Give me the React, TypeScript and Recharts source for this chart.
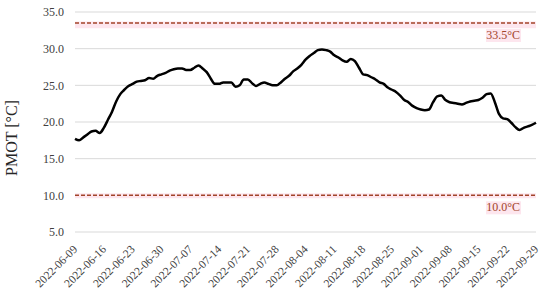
import { CartesianGrid, Line, LineChart, ReferenceArea, ReferenceLine, XAxis, YAxis } from 'recharts'

// daily PMOT values, one array per month (2022-06-09 .. 2022-09-29)
const JUNE = [
  17.7, 17.5, 17.9, 18.3, 18.7, 18.8, 18.5, 19.2, 20.3, 21.4, 22.8, 23.8, 24.4, 24.9, 25.2, 25.5,
  25.6, 25.7, 26.0, 25.9, 26.3, 26.5,
]
const JULY = [
  26.7, 27.0, 27.2, 27.3, 27.3, 27.1, 27.1, 27.4, 27.7, 27.3, 26.8, 25.9, 25.2, 25.2, 25.4, 25.4,
  25.4, 24.8, 25.0, 25.8, 25.8, 25.3, 24.9, 25.2, 25.4, 25.2, 25.0, 25.0, 25.4, 25.9, 26.3,
]
const AUGUST = [
  26.9, 27.3, 27.8, 28.5, 29.0, 29.4, 29.8, 29.9, 29.8, 29.6, 29.1, 28.8, 28.4, 28.2, 28.6, 28.3,
  27.4, 26.5, 26.4, 26.1, 25.8, 25.4, 25.2, 24.7, 24.4, 24.1, 23.6, 23.0, 22.7, 22.2, 21.9,
]
const SEPTEMBER = [
  21.7, 21.6, 21.7, 22.7, 23.5, 23.6, 23.0, 22.7, 22.6, 22.5, 22.4, 22.6, 22.8, 22.9, 23.0, 23.3,
  23.8, 23.9, 22.7, 21.1, 20.5, 20.4, 19.9, 19.3, 18.9, 19.2, 19.4, 19.6, 19.9,
]

const MONTHS: [string, number, number[]][] = [
  ['06', 9, JUNE],
  ['07', 1, JULY],
  ['08', 1, AUGUST],
  ['09', 1, SEPTEMBER],
]

const Y_TICKS = [5, 10, 15, 20, 25, 30, 35]
const UPPER = 33.5
const LOWER = 10.0

const data = MONTHS.flatMap(([m, first, vals]) =>
  vals.map((v, i) => ({ date: `2022-${m}-${String(first + i).padStart(2, '0')}`, pmot: v })),
)

const FONT = '"Liberation Serif", "Times New Roman", serif'
const RED = '#a2442a'
const PINK = '#fde6ee'
const TICK = '#404040'

function DateTick({ x, y, payload }: { x?: number; y?: number; payload?: { value: string } }) {
  // tick y sits 8px under the axis; put the label's end just below it
  return (
    <g transform={`translate(${(x ?? 0) + 3},${(y ?? 0) + 10})`}>
      <text x={0} y={0} textAnchor="end" transform="rotate(-45)" fontSize={11.5} fontFamily={FONT} fill={TICK}>
        {payload?.value}
      </text>
    </g>
  )
}

function thresholdLabel(text: string) {
  return (props: { viewBox?: { x: number; y: number; width: number } }) => {
    const vb = props.viewBox
    if (!vb) return null
    const right = vb.x + vb.width - 16
    return (
      <g>
        <rect x={right - 34} y={vb.y + 6} width={35} height={13} fill={PINK} />
        <text x={right} y={vb.y + 16} textAnchor="end" fontSize={12} fontFamily={FONT} fill={RED}>
          {text}
        </text>
      </g>
    )
  }
}

function AxisTitle() {
  return (
    <text
      x={0}
      y={0}
      transform="translate(17,138) rotate(-90)"
      textAnchor="middle"
      fontSize={16}
      fontFamily={FONT}
      fill="#262626"
    >
      PMOT [°C]
    </text>
  )
}

export default function App() {
  return (
    <div style={{ position: 'absolute', left: 0, top: 0, background: '#fff' }}>
      <LineChart width={550} height={294} data={data} margin={{ top: 12, right: 14, bottom: 0, left: 0 }}>
        <CartesianGrid vertical={false} stroke="#d9d9d9" />
        <ReferenceArea y1={UPPER - 0.7} y2={UPPER + 0.2} fill={PINK} fillOpacity={1} stroke="none" />
        <ReferenceArea y1={LOWER - 0.4} y2={LOWER + 0.3} fill={PINK} fillOpacity={1} stroke="none" />
        <XAxis
          dataKey="date"
          interval={6}
          axisLine={false}
          tickLine={false}
          height={62}
          tick={<DateTick />}
        />
        <YAxis
          domain={[5, 35]}
          ticks={Y_TICKS}
          width={75}
          axisLine={false}
          tickLine={false}
          tickMargin={5}
          tickFormatter={(v: number) => v.toFixed(1)}
          tick={{ fontSize: 12, fontFamily: FONT, fill: TICK }}
          label={<AxisTitle />}
        />
        <ReferenceLine
          y={UPPER}
          stroke={RED}
          strokeWidth={1.5}
          strokeDasharray="4 2"
          label={thresholdLabel('33.5°C')}
        />
        <ReferenceLine
          y={LOWER}
          stroke={RED}
          strokeWidth={1.5}
          strokeDasharray="4 2"
          label={thresholdLabel('10.0°C')}
        />
        <Line
          dataKey="pmot"
          type="monotone"
          stroke="#000"
          strokeWidth={2.5}
          dot={false}
          isAnimationActive={false}
        />
      </LineChart>
    </div>
  )
}
